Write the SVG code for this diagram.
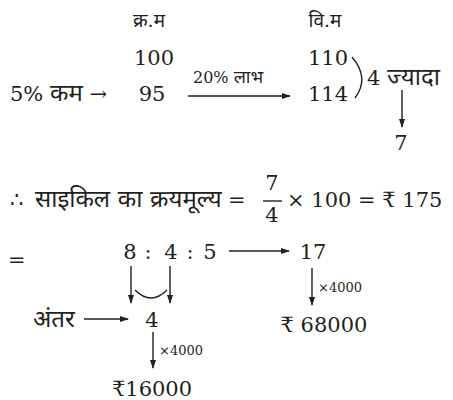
<svg xmlns="http://www.w3.org/2000/svg" width="453" height="400" viewBox="0 0 453 400">
<style>
text{font-family:"DejaVu Serif","Noto Sans",serif;fill:#231f20;font-size:21px}
.d{font-size:24px}
.h{font-size:19px}
.s{font-size:16px}
.xs{font-size:13px}
.l{stroke:#231f20;stroke-width:1.4;fill:none}
</style>
<defs>
<marker id="ah" markerWidth="9" markerHeight="6" refX="8" refY="3" orient="auto" markerUnits="userSpaceOnUse">
<path d="M0,0 L9,3 L0,6 Z" fill="#231f20"/>
</marker>
</defs>
<rect width="453" height="400" fill="#fff"/>
<g id="headers">
<text x="149" y="27" text-anchor="middle" class="h">क्र.म</text>
<text x="325" y="27" text-anchor="middle" class="h">वि.म</text>
</g>
<g id="cp">
<text x="154" y="65" text-anchor="middle">100</text>
<text x="10" y="101">5% <tspan class="d">कम</tspan> →</text>
<text x="152" y="101" text-anchor="middle">95</text>
</g>
<g id="sp">
<text x="328" y="65" text-anchor="middle">110</text>
<text x="328" y="101" text-anchor="middle">114</text>
<text x="367" y="85">4 <tspan class="d">ज्यादा</tspan></text>
<text x="401" y="150" text-anchor="middle">7</text>
</g>
<g id="costline">
<text x="10" y="207">∴</text>
<text x="35" y="207" class="d">साइकिल का क्रयमूल्य</text>
<text x="228" y="207">=</text>
<text x="272" y="190" text-anchor="middle">7</text>
<text x="272" y="222" text-anchor="middle">4</text>
<text x="287" y="207">× 100 = ₹ 175</text>
</g>
<g id="ratio">
<text x="8" y="267">=</text>
<text x="130" y="259" text-anchor="middle">8</text>
<text x="148" y="259" text-anchor="middle">:</text>
<text x="171" y="259" text-anchor="middle">4</text>
<text x="190" y="259" text-anchor="middle">:</text>
<text x="210" y="259" text-anchor="middle">5</text>
<text x="313" y="259" text-anchor="middle">17</text>
<text x="33" y="327" class="d">अंतर</text>
<text x="152" y="327" text-anchor="middle">4</text>
<text x="152" y="396" text-anchor="middle">₹16000</text>
<text x="324" y="332" text-anchor="middle">₹ 68000</text>
<text x="159" y="355" class="xs">×4000</text>
<text x="318" y="292" class="xs">×4000</text>
</g>
<g id="connectors">
<line x1="188" y1="96" x2="290" y2="96" class="l" marker-end="url(#ah)"/>
<text x="193" y="83" class="s">20% <tspan font-size="18">लाभ</tspan></text>
<path d="M352,57 Q370,78 355,98" class="l"/>
<line x1="402" y1="90" x2="402" y2="127" class="l" marker-end="url(#ah)"/>
<line x1="263" y1="201" x2="282" y2="201" class="l"/>
<line x1="229" y1="251" x2="289" y2="251" class="l" marker-end="url(#ah)"/>
<line x1="131" y1="266" x2="131" y2="303" class="l" marker-end="url(#ah)"/>
<line x1="170" y1="266" x2="170" y2="303" class="l" marker-end="url(#ah)"/>
<path d="M135,290 Q151,306 167,290" class="l"/>
<line x1="84" y1="319" x2="128" y2="319" class="l" marker-end="url(#ah)"/>
<line x1="153" y1="332" x2="153" y2="368" class="l" marker-end="url(#ah)"/>
<line x1="312" y1="268" x2="312" y2="305" class="l" marker-end="url(#ah)"/>
</g>
</svg>
